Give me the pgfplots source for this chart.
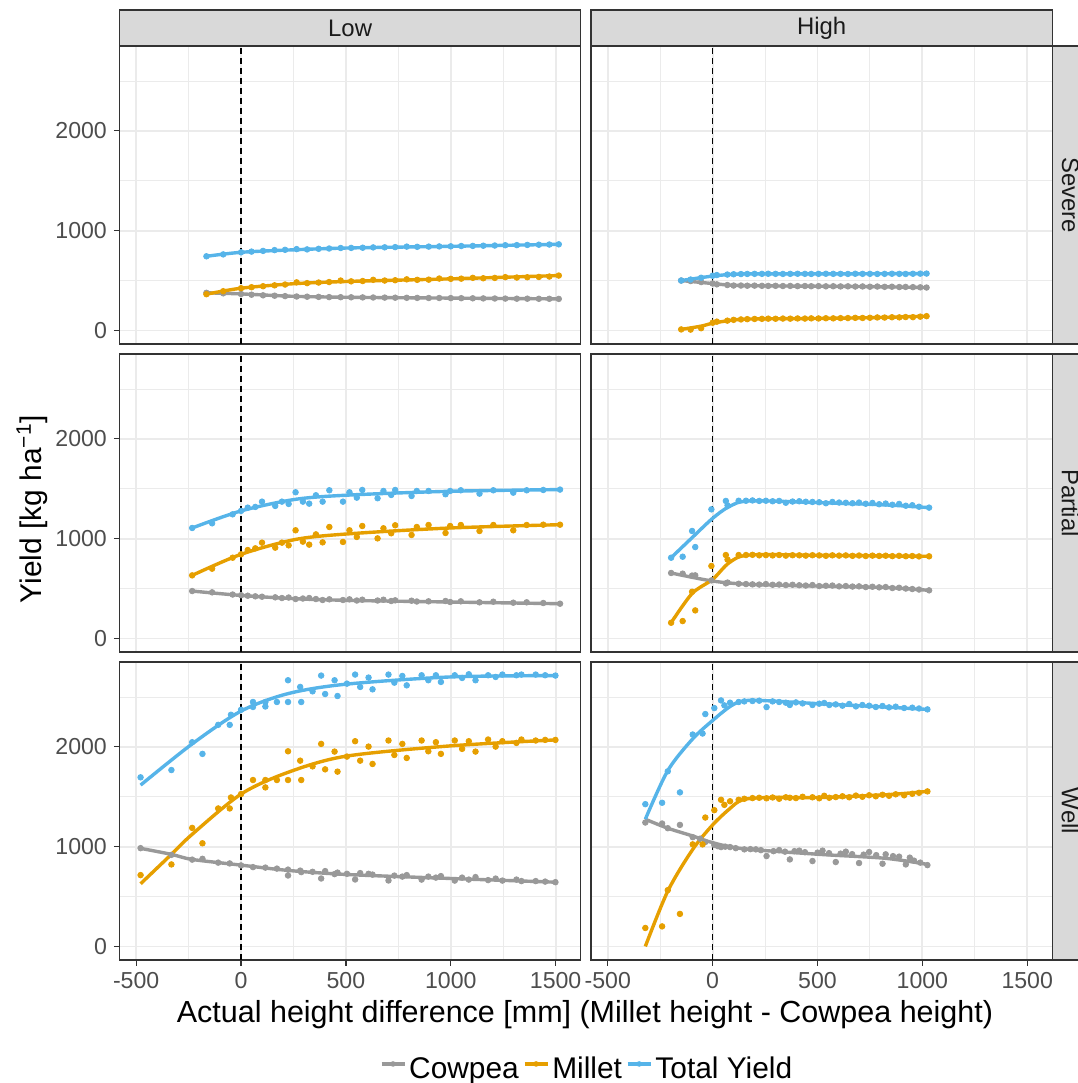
\documentclass[border=0pt]{standalone}
\usepackage{pgfplots}
\pgfplotsset{compat=1.18}
\usepackage{fontspec}
\setmainfont{Liberation Sans}
\definecolor{cgrey}{HTML}{999999}
\definecolor{corange}{HTML}{E69F00}
\definecolor{cblue}{HTML}{56B4E9}
\definecolor{gridc}{HTML}{EBEBEB}
\definecolor{framec}{HTML}{333333}
\definecolor{tickc}{HTML}{4D4D4D}
\definecolor{stripc}{HTML}{D9D9D9}
\definecolor{stript}{HTML}{1A1A1A}

\pgfplotsset{
  panel/.style={
    scale only axis, width=230.7bp, height=149bp,
    xmin=-580, xmax=1620, ymin=-136, ymax=2851,
    xtick={-500,0,500,1000,1500}, ytick={0,1000,2000},
    minor xtick={-250,250,750,1250}, minor ytick={500,1500,2500},
    xmajorgrids, ymajorgrids, xminorgrids, yminorgrids,
    major grid style={draw=gridc, line width=0.9bp},
    minor grid style={draw=gridc, line width=0.45bp},
    axis line style={draw=framec, line width=0.6bp},
    tick align=outside, xtick pos=bottom, ytick pos=left,
    major tick length=2.75bp, minor tick length=0pt,
    xtick style={draw=none}, ytick style={draw=none},
    xticklabels={}, yticklabels={},
    tick label style={font=\fontsize{11.6}{13}\selectfont, text=tickc},
  },
  showy/.style={yticklabels={0,1000,2000}, ytick style={draw=framec, line width=0.6bp}},
  showx/.style={xticklabels={-500,0,500,1000,1500}, xtick style={draw=framec, line width=0.6bp}},
  pts/.style={only marks, mark=*, mark size=1.4bp, color=#1, mark options={draw=none, fill=#1}},
  ln/.style={no marks, smooth, line width=1.7bp, color=#1},
  zline/.style={black, line width=0.8bp, dash pattern=on 3bp off 2bp},
}

\newcommand{\legkey}[1]{\tikz[baseline=0pt]{\path (0,0) (11.5bp,0); \draw[#1, line width=1.7bp] (0,0.47em) -- (11.5bp,0.47em); \fill[#1] (5.75bp,0.47em) circle (1.4bp);}}

\begin{document}
\begin{tikzpicture}
\useasboundingbox (0,0) rectangle (539bp,541.5bp);

% ---------- Row 1: Severe ----------
\begin{axis}[panel, showy, at={(59.7bp,518.5bp)}, anchor=north west]
\addplot[zline] coordinates {(0,-136) (0,2851)};
\addplot[pts=cgrey] coordinates {(-165,377)(-85,372)(0,365)(50,358)(105,352)(160,348)(210,344)(265,340)(315,338)(370,336)(420,334)(475,333)(525,332)(580,331)(630,330)(685,329)(735,328)(790,327)(840,326)(895,325)(945,325)(1000,324)(1050,323)(1105,322)(1155,321)(1210,320)(1260,319)(1315,318)(1365,318)(1420,317)(1470,317)(1515,316)};
\addplot[ln=cgrey] coordinates {(-165,377)(0,366)(250,342)(524,332)(1000,324)(1515,316)};
\addplot[pts=corange] coordinates {(-165,363)(-85,393)(0,423)(50,433)(105,443)(160,452)(210,460)(265,482)(315,474)(370,480)(420,485)(475,500)(525,492)(580,495)(630,507)(685,500)(735,503)(790,512)(840,507)(895,509)(945,520)(1000,517)(1050,519)(1105,527)(1155,523)(1210,526)(1260,534)(1315,530)(1365,533)(1420,536)(1470,540)(1515,550)};
\addplot[ln=corange] coordinates {(-165,363)(0,423)(250,468)(524,492)(1000,517)(1515,550)};
\addplot[pts=cblue] coordinates {(-165,743)(-85,762)(0,783)(50,790)(105,797)(160,805)(210,808)(265,815)(315,812)(370,818)(420,821)(475,826)(525,827)(580,829)(630,832)(685,833)(735,835)(790,840)(840,838)(895,840)(945,842)(1000,843)(1050,846)(1105,847)(1155,849)(1210,851)(1260,854)(1315,855)(1365,857)(1420,859)(1470,861)(1515,863)};
\addplot[ln=cblue] coordinates {(-165,743)(0,783)(250,808)(524,827)(1000,843)(1515,863)};
\end{axis}

\begin{axis}[panel, at={(295.5bp,518.5bp)}, anchor=north west]
\addplot[zline] coordinates {(0,-136) (0,2851)};
\addplot[pts=cgrey] coordinates {(-150,500)(-105,495)(-55,485)(0,470)(20,462)(70,455)(100,450)(135,450)(165,448)(200,449)(235,447)(265,446)(300,447)(335,445)(370,446)(405,444)(440,445)(470,443)(505,444)(540,442)(575,443)(610,441)(645,442)(680,440)(715,441)(750,438)(785,440)(820,437)(855,438)(890,435)(920,436)(955,434)(990,432)(1020,430)};
\addplot[ln=cgrey] coordinates {(-150,500)(0,470)(100,452)(300,446)(700,440)(1020,430)};
\addplot[pts=corange] coordinates {(-150,10)(-105,8)(-55,22)(0,77)(20,88)(70,98)(100,106)(135,110)(165,113)(200,115)(235,116)(265,118)(300,117)(335,119)(370,118)(405,120)(440,119)(470,121)(505,120)(540,122)(575,121)(610,123)(645,124)(680,126)(715,125)(750,127)(785,130)(820,129)(855,132)(890,131)(920,134)(955,133)(990,138)(1020,143)};
\addplot[ln=corange] coordinates {(-150,10)(-55,43)(0,72)(100,105)(200,115)(500,120)(800,130)(1020,143)};
\addplot[pts=cblue] coordinates {(-150,500)(-105,510)(-55,528)(0,548)(20,555)(70,560)(100,563)(135,565)(165,566)(200,567)(235,567)(265,568)(300,567)(335,566)(370,567)(405,568)(440,567)(470,566)(505,567)(540,568)(575,567)(610,567)(645,566)(680,568)(715,567)(750,567)(785,566)(820,567)(855,568)(890,567)(920,566)(955,568)(990,569)(1020,570)};
\addplot[ln=cblue] coordinates {(-150,500)(0,545)(100,563)(200,567)(600,567)(1020,570)};
\end{axis}

% ---------- Row 2: Partial ----------
\begin{axis}[panel, showy, at={(59.7bp,364.5bp)}, anchor=north west]
\addplot[zline] coordinates {(0,-136) (0,2851)};
\addplot[pts=cgrey] coordinates {(-233,475)(-138,462)(-40,440)(0,433)(32,428)(68,422)(100,418)(163,412)(195,405)(227,410)(260,395)(295,400)(325,405)(357,395)(389,385)(421,392)(486,385)(517,392)(552,380)(578,388)(651,380)(679,388)(716,375)(735,382)(813,378)(838,370)(894,372)(975,375)(997,365)(1048,372)(1137,362)(1203,368)(1298,358)(1362,362)(1441,355)(1521,348)};
\addplot[ln=cgrey] coordinates {(-233,475)(0,431)(262,398)(524,381)(997,365)(1521,348)};
\addplot[pts=corange] coordinates {(-233,632)(-138,699)(-40,809)(0,843)(32,886)(68,903)(100,960)(163,910)(195,960)(227,933)(260,1084)(295,970)(325,940)(357,1043)(389,963)(421,1117)(486,967)(517,1084)(552,1017)(578,1127)(651,1003)(679,1104)(716,1054)(735,1134)(813,1037)(838,1117)(894,1137)(975,1057)(997,1127)(1048,1137)(1137,1077)(1203,1137)(1298,1084)(1362,1137)(1441,1140)(1521,1140)};
\addplot[ln=corange] coordinates {(-233,632)(0,843)(262,993)(524,1050)(997,1107)(1521,1140)};
\addplot[pts=cblue] coordinates {(-233,1107)(-138,1154)(-40,1244)(0,1278)(32,1311)(68,1318)(100,1371)(163,1328)(195,1371)(227,1348)(260,1465)(295,1371)(325,1351)(357,1435)(389,1371)(421,1485)(486,1371)(517,1465)(552,1411)(578,1488)(651,1405)(679,1478)(716,1438)(735,1488)(813,1428)(838,1478)(894,1478)(975,1445)(997,1478)(1048,1485)(1137,1451)(1203,1485)(1298,1461)(1362,1485)(1441,1488)(1521,1492)};
\addplot[ln=cblue] coordinates {(-233,1107)(0,1278)(262,1395)(524,1438)(997,1475)(1521,1492)};
\end{axis}

\begin{axis}[panel, at={(295.5bp,364.5bp)}, anchor=north west]
\addplot[zline] coordinates {(0,-136) (0,2851)};
\addplot[pts=cgrey] coordinates {(-198,656)(-143,649)(-98,630)(-83,632)(-6,582)(63,552)(71,560)(124,548)(159,545)(190,542)(222,540)(254,545)(286,538)(317,540)(349,535)(381,538)(413,533)(444,530)(476,535)(508,525)(540,528)(571,530)(603,522)(635,525)(667,520)(698,522)(730,515)(762,518)(794,512)(825,515)(857,505)(889,508)(921,500)(952,495)(984,490)(1032,482)};
\addplot[ln=cgrey] coordinates {(-198,656)(0,575)(175,542)(508,525)(825,510)(1032,482)};
\addplot[pts=corange] coordinates {(-198,157)(-143,174)(-98,468)(-83,281)(-6,726)(63,836)(71,790)(124,836)(159,836)(190,838)(222,833)(254,835)(286,832)(317,836)(349,830)(381,834)(413,833)(444,830)(476,834)(508,832)(540,828)(571,833)(603,830)(635,832)(667,828)(698,831)(730,826)(762,830)(794,827)(825,829)(857,825)(889,828)(921,824)(952,826)(984,822)(1032,823)};
\addplot[ln=corange] coordinates {(-198,157)(-98,450)(0,592)(79,759)(175,836)(508,833)(1032,823)};
\addplot[pts=cblue] coordinates {(-198,809)(-143,819)(-98,1077)(-83,916)(-6,1294)(63,1378)(71,1334)(124,1380)(159,1380)(190,1383)(222,1378)(254,1380)(286,1375)(317,1378)(349,1360)(381,1372)(413,1375)(444,1370)(476,1368)(508,1365)(540,1355)(571,1368)(603,1362)(635,1360)(667,1355)(698,1362)(730,1350)(762,1358)(794,1345)(825,1352)(857,1340)(889,1348)(921,1330)(952,1335)(984,1320)(1032,1311)};
\addplot[ln=cblue] coordinates {(-198,809)(-98,1010)(0,1204)(79,1321)(175,1378)(508,1361)(825,1338)(1032,1311)};
\end{axis}

% ---------- Row 3: Well ----------
\begin{axis}[panel, showy, showx, at={(59.7bp,210.5bp)}, anchor=north west]
\addplot[zline] coordinates {(0,-136) (0,2851)};
\addplot[pts=cgrey] coordinates {(-479,985)(-332,918)(-233,870)(-184,878)(-109,840)(-54,832)(0,812)(57,795)(116,790)(171,780)(224,711)(224,770)(282,760)(287,745)(341,748)(382,681)(401,755)(446,725)(460,740)(505,728)(544,671)(568,735)(608,728)(627,720)(703,661)(731,710)(769,700)(790,715)(861,670)(893,700)(929,690)(953,705)(1019,660)(1054,690)(1086,670)(1118,695)(1178,665)(1214,680)(1246,660)(1313,670)(1337,655)(1405,655)(1450,650)(1499,644)};
\addplot[ln=cgrey] coordinates {(-479,983)(-332,923)(-233,872)(0,815)(224,762)(505,721)(1000,681)(1499,644)};
\addplot[pts=corange] coordinates {(-479,715)(-332,822)(-233,1188)(-184,1034)(-109,1383)(-54,1383)(-48,1493)(0,1527)(57,1668)(116,1668)(116,1594)(171,1668)(224,1956)(224,1668)(282,1862)(287,1668)(341,1805)(382,2030)(401,1775)(446,1953)(460,1752)(505,1903)(544,2057)(568,1862)(608,2003)(627,1829)(703,2064)(731,1919)(769,2030)(790,1889)(861,2064)(893,1956)(929,2047)(953,1930)(1019,2064)(1054,1980)(1086,2057)(1118,1953)(1178,2074)(1214,2003)(1246,2057)(1313,2040)(1337,2074)(1405,2064)(1450,2070)(1499,2070)};
\addplot[ln=corange] coordinates {(-479,628)(-332,923)(-233,1124)(0,1527)(224,1745)(498,1906)(997,2010)(1499,2070)};
\addplot[pts=cblue] coordinates {(-479,1695)(-332,1768)(-233,2047)(-184,1930)(-109,2221)(-54,2221)(-48,2322)(0,2372)(57,2450)(57,2400)(116,2450)(116,2405)(171,2450)(224,2668)(224,2450)(282,2601)(287,2450)(341,2557)(382,2715)(401,2530)(446,2668)(460,2510)(505,2634)(544,2725)(568,2601)(608,2695)(627,2577)(703,2725)(731,2644)(769,2711)(790,2617)(861,2718)(893,2668)(929,2718)(953,2651)(1019,2718)(1054,2691)(1086,2728)(1118,2668)(1178,2718)(1214,2701)(1246,2725)(1313,2718)(1337,2725)(1405,2725)(1450,2718)(1499,2715)};
\addplot[ln=cblue] coordinates {(-479,1617)(-233,2030)(0,2359)(224,2534)(498,2628)(997,2701)(1499,2715)};
\end{axis}

\begin{axis}[panel, showx, at={(295.5bp,210.5bp)}, anchor=north west]
\addplot[zline] coordinates {(0,-136) (0,2851)};
\addplot[pts=cgrey] coordinates {(-321,1242)(-241,1232)(-214,1185)(-156,1218)(-95,1095)(-60,1080)(-35,1047)(8,1017)(25,1005)(40,996)(60,1000)(83,996)(110,985)(151,973)(180,975)(206,973)(230,965)(257,906)(290,955)(317,966)(345,950)(368,872)(390,955)(413,960)(440,945)(476,856)(500,940)(524,960)(555,935)(587,846)(610,930)(635,950)(665,925)(698,836)(720,920)(746,946)(780,915)(810,829)(825,923)(860,905)(889,900)(921,822)(940,890)(960,860)(990,840)(1024,815)};
\addplot[ln=cgrey] coordinates {(-321,1275)(-214,1185)(-95,1107)(0,1040)(143,980)(508,923)(825,883)(1024,822)};
\addplot[pts=corange] coordinates {(-321,185)(-241,201)(-214,564)(-156,326)(-95,1023)(-48,1023)(-35,1292)(8,1366)(40,1470)(56,1419)(83,1455)(124,1470)(151,1480)(190,1487)(222,1490)(257,1485)(286,1493)(317,1480)(349,1495)(368,1490)(397,1487)(429,1500)(476,1495)(508,1485)(532,1510)(556,1490)(587,1497)(619,1505)(651,1495)(683,1512)(714,1500)(746,1515)(778,1505)(810,1520)(841,1510)(873,1525)(913,1515)(952,1530)(984,1540)(1024,1554)};
\addplot[ln=corange] coordinates {(-321,0)(-214,554)(-95,973)(0,1218)(79,1376)(143,1470)(270,1493)(508,1493)(825,1520)(1024,1554)};
\addplot[pts=cblue] coordinates {(-321,1426)(-241,1440)(-214,1755)(-156,1544)(-95,2124)(-48,2134)(-35,2329)(8,2389)(40,2466)(56,2416)(83,2443)(124,2450)(151,2456)(190,2460)(222,2463)(257,2399)(286,2456)(317,2450)(349,2443)(368,2420)(397,2446)(429,2436)(476,2420)(508,2433)(532,2440)(556,2420)(587,2426)(619,2413)(651,2430)(683,2406)(714,2420)(746,2413)(778,2400)(810,2410)(841,2396)(873,2403)(913,2390)(952,2393)(984,2385)(1024,2376)};
\addplot[ln=cblue] coordinates {(-321,1275)(-214,1762)(-95,2081)(0,2265)(79,2399)(135,2456)(222,2466)(508,2433)(825,2399)(1024,2376)};
\end{axis}

% ---------- strips ----------
\begin{scope}[every node/.style={font=\fontsize{12}{14}\selectfont, text=stript}]
\draw[fill=stripc, draw=framec, line width=0.6bp] (59.7bp,518.5bp) rectangle (290.4bp,536.5bp);
\node at (175.05bp,527.2bp) {Low};
\draw[fill=stripc, draw=framec, line width=0.6bp] (295.5bp,518.5bp) rectangle (526.2bp,536.5bp);
\node at (410.85bp,527.2bp) {High};
\draw[fill=stripc, draw=framec, line width=0.6bp] (526.2bp,518.5bp) rectangle (544.2bp,369.5bp);
\node[rotate=-90] at (535.2bp,444bp) {Severe};
\draw[fill=stripc, draw=framec, line width=0.6bp] (526.2bp,364.5bp) rectangle (544.2bp,215.5bp);
\node[rotate=-90] at (535.2bp,290bp) {Partial};
\draw[fill=stripc, draw=framec, line width=0.6bp] (526.2bp,210.5bp) rectangle (544.2bp,61.5bp);
\node[rotate=-90] at (535.2bp,136bp) {Well};
\end{scope}

% ---------- axis titles ----------
\node[rotate=90, font=\fontsize{15}{17}\selectfont] at (16bp,287bp) {Yield [kg ha\textsuperscript{−1}]};
\node[anchor=base, font=\fontsize{15.3}{17}\selectfont] at (292.5bp,30.5bp) {Actual height difference [mm] (Millet height - Cowpea height)};

% ---------- legend ----------
\node[anchor=base, font=\fontsize{15}{17}\selectfont, inner sep=0pt] at (293bp,2.5bp)
  {\legkey{cgrey}\hspace{1.5bp}Cowpea\hspace{2bp}\legkey{corange}\hspace{1.5bp}Millet\hspace{2bp}\legkey{cblue}\hspace{1.5bp}Total Yield};
\end{tikzpicture}
\end{document}
